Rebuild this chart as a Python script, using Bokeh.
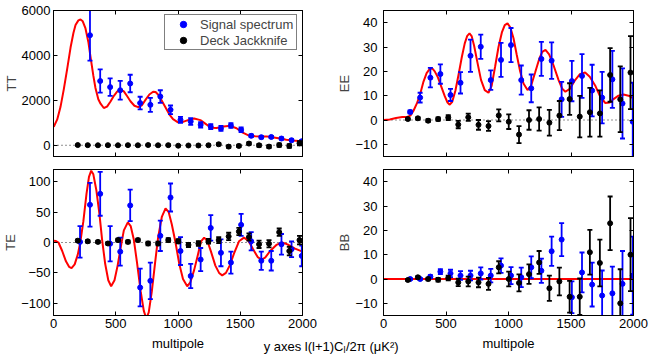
import numpy as np
from bokeh.plotting import figure
from bokeh.layouts import column, row
from bokeh.models import (ColumnDataSource, LinearAxis, FixedTicker, Span, Legend,
                          LegendItem, Label, Range1d, CustomJSTickFormatter)
from bokeh.embed import file_html
from bokeh.resources import INLINE

# ---------------- data ----------------
# bin centres (multipole) of the two data sets
ell_jk = [195, 275, 357, 437, 518, 598, 678, 760, 840, 922, 1002, 1084, 1164, 1245,
          1327, 1407, 1489, 1570, 1651, 1731, 1813, 1894, 1976]
ell_sig = [213, 293, 375, 455, 536, 616, 696, 778, 858, 940, 1020, 1102, 1182, 1263,
           1345, 1425, 1507, 1588, 1669, 1749, 1831, 1912, 1994]

# TT (signal starts at the second bin)
tt_sig = [4900, 2860, 2590, 2450, 2750, 1880, 1800, 2170, 1580, 1130, 1060, 910, 830,
          750, 880, 690, 420, 360, 370, 300, 225, 180]
tt_sig_err = [1130, 520, 390, 420, 390, 280, 310, 280, 190, 130, 150, 120, 110, 110,
              110, 100, 60, 50, 50, 50, 50, 50]
tt_jk = [10, 5, 0, 5, 0, 5, 0, 10, 0, 5, -20, -10, -10, 0, 45, -60, -30, 75, 0, -60,
         10, -30, 90]
tt_jk_err = [20, 20, 20, 20, 20, 20, 25, 25, 25, 30, 30, 30, 35, 40, 45, 50, 55, 60,
             65, 70, 75, 80, 90]

# EE
ee_sig = [3.3, 9.2, 17.4, 18.9, 10.3, 15.3, 26.4, 30.1, 16.4, 24.7, 30.8, 16.4, 13.0,
          25.1, 24.4, 8.5, 16.0, 18.1, 12.1, 9.2, 16.7, 6.8, -0.7]
ee_sig_err = [0.6, 2.0, 4.0, 4.0, 2.5, 4.4, 6.6, 5.0, 4.0, 7.0, 7.0, 6.0, 5.7, 7.0,
              7.5, 7.2, 8.3, 9.0, 10.6, 10.6, 11.7, 14.4, 16.0]
ee_jk = [0.4, 0.7, -0.3, 0.4, 1.0, -1.9, 1.1, -2.0, -2.5, 1.9, -0.7, -6.0, 0.0, 0.4,
         -1.1, 1.8, 8.6, 1.4, 3.2, 2.7, 18.5, 8.5, 19.5]
ee_jk_err = [0.4, 0.5, 0.6, 0.7, 1.0, 1.5, 1.5, 2.0, 2.0, 2.5, 3.0, 3.5, 4.0, 4.8,
             5.3, 6.0, 6.5, 8.5, 10.0, 9.5, 11.0, 13.5, 15.0]

# TE
te_sig = [1, 62, 80, -2, -15, 61, -74, -63, 11, 74, -14, -55, -28, 24, -17, -33, 29,
          2, -30, -30, -3, -11, -22]
te_sig_err = [26, 36, 36, 29, 23, 26, 31, 30, 25, 23, 23, 20, 19, 21, 22, 18, 18, 15,
              15, 16, 17, 13, 17]
te_jk = [3, 2, 1, -1.6, 4, 1, 4, -1.6, -1.6, 4, 2, -4, -1.6, 2, 4, 10, 18, 9, -3, -2,
         17, -14, 4]
te_jk_err = [2, 2, 2, 2, 2.5, 2.5, 2.5, 3, 3, 3, 3.5, 3.5, 4, 4, 5, 6, 6, 6, 6, 6, 6,
             7, 7]

# BB
bb_sig = [0, 0, 1, 3, 2.3, 1.4, 1.4, 2.3, 1.4, 5.5, 1.4, 0.7, 4.8, 3.4, 11.4, 16.2,
          -7.5, 2.7, -2.3, -6.8, -5.9, -2, 1.4]
bb_sig_err = [0.3, 0.4, 0.6, 1.0, 1.5, 1.8, 2.0, 2.5, 2.8, 3.0, 3.5, 4.0, 4.5, 5.0,
              6.0, 6.8, 6.5, 8.2, 9.0, 10.3, 11.0, 13.5, 16.0]
bb_jk = [-0.4, 0.7, 0, -0.3, 0.4, -1.4, -1, -1.4, -2, 4.8, 0, -1.6, 2, 6.8, -3.8, -1,
         -7.3, -7.3, 11, 6.6, 22.9, -10, 10]
bb_jk_err = [0.4, 0.5, 0.6, 0.8, 1.0, 1.5, 2.0, 2.0, 2.5, 2.5, 3.0, 3.5, 4.0, 4.7, 5.2,
             5.7, 6.5, 7.5, 9.2, 9.6, 11.0, 14.0, 15.0]

# theory curves
tt_th_ell = [2, 30, 56, 83, 110, 137, 160, 177, 200, 217, 235, 257, 280, 297, 320, 337,
             360, 378, 404, 430, 458, 485, 511, 538, 565, 592, 618, 650, 680, 710, 740,
             770, 800, 820, 845, 870, 900, 930, 960, 1000, 1040, 1080, 1130, 1180, 1230,
             1270, 1310, 1350, 1420, 1470, 1520, 1570, 1620, 1670, 1720, 1770, 1820,
             1870, 1920, 1970, 2000]
tt_th = [820, 1150, 1700, 2500, 3400, 4350, 5000, 5350, 5560, 5600, 5520, 5200, 4600,
         3950, 3100, 2550, 2050, 1850, 1660, 1720, 1950, 2200, 2390, 2480, 2400, 2180,
         1960, 1760, 1700, 1780, 2030, 2260, 2380, 2370, 2230, 1980, 1680, 1380, 1160,
         1020, 1040, 1120, 1190, 1120, 920, 780, 770, 820, 865, 760, 560, 430, 400, 395,
         385, 350, 300, 250, 215, 190, 175]

ee_th_ell = [0, 50, 100, 150, 185, 215, 240, 267, 295, 320, 345, 370, 390, 410, 435,
             460, 490, 512, 530, 550, 575, 600, 627, 650, 670, 688, 705, 725, 750, 780,
             810, 840, 865, 893, 920, 947, 970, 992, 1015, 1040, 1065, 1093, 1120, 1152,
             1180, 1213, 1245, 1270, 1296, 1325, 1360, 1400, 1430, 1455, 1490, 1533,
             1570, 1613, 1650, 1693, 1730, 1773, 1810, 1840, 1880, 1920, 1960, 2000]
ee_th = [0, 0.2, 0.8, 1.2, 1.2, 1.8, 3.8, 6.8, 11, 15.8, 19.3, 21.0, 21.2, 20, 17.5, 14,
         9.8, 7.2, 6.3, 7.5, 12, 18.5, 26, 31.5, 34.6, 35.6, 34.5, 30.5, 24, 16.5, 12.3,
         11.2, 14, 22, 30, 36, 39, 39.7, 38, 33.6, 27, 20, 15, 12.3, 14, 19.5, 25, 28,
         28.8, 27, 22.5, 16.5, 12.8, 11.6, 12.8, 16.4, 18.8, 19.5, 17.8, 14.2, 10, 7,
         7.2, 8.6, 10, 10.5, 10, 8.9]

te_th_ell = [0, 20, 40, 70, 100, 125, 145, 170, 195, 215, 240, 265, 285, 303, 320, 345,
             370, 390, 415, 440, 463, 490, 515, 540, 565, 597, 620, 645, 670, 700, 725,
             745, 765, 790, 815, 840, 870, 900, 925, 950, 980, 1010, 1040, 1074, 1100,
             1130, 1160, 1185, 1210, 1235, 1265, 1300, 1330, 1355, 1385, 1415, 1450, 1490,
             1530, 1565, 1600, 1640, 1670, 1700, 1740, 1790, 1837, 1880, 1940, 2000]
te_th = [3, 2.5, 0, -14, -31, -40, -42, -36, -20, 0, 35, 80, 108, 118, 112, 85, 45, 5,
         -35, -62, -72, -62, -38, -8, 20, 33, 27, 5, -32, -80, -112, -125, -115, -80, -35,
         8, 42, 56, 50, 30, 0, -35, -60, -72, -65, -45, -20, 2, 8, 3, -15, -38, -50, -54,
         -50, -38, -18, 2, 8, 3, -10, -24, -28, -25, -14, -4, 0, -3, -10, -15]

bb_th_ell = [0, 2000]
bb_th = [0, 0]

x_ticks = [0, 500, 1000, 1500, 2000]
tt_ticks = [0, 2000, 4000, 6000]
pol_ticks = [-10, 0, 10, 20, 30, 40]
te_ticks = [-100, -50, 0, 50, 100]

# caption pieces: main text, subscript, rest (with superscript 2)
cap_main = "y axes l(l+1)C"
cap_sub = "l"
cap_rest = "/2\u03c0 (\u03bcK\u00b2)"

# ---------------- styling ----------------
FONT = "Liberation Sans"
FS = "13px"
BLUE = "#0000ff"
BLACK = "#000000"
RED = "#ff0000"
MINUS_FMT = "return (tick < 0 ? '\\u2212' : '') + Math.abs(tick).toFixed(0);"


def make_panel(width, height, left, right, top, bottom, yr, yticks, ylabel,
               ylab_standoff, show_xlabels):
    p = figure(width=width, height=height,
               x_range=Range1d(0, 2000), y_range=Range1d(*yr),
               min_border_left=left, min_border_right=right,
               min_border_top=top, min_border_bottom=bottom,
               output_backend="svg", toolbar_location=None, tools="")
    p.add_layout(LinearAxis(), "right")
    p.add_layout(LinearAxis(), "above")
    p.grid.visible = False
    p.outline_line_color = "black"
    p.outline_line_width = 1
    p.background_fill_color = "white"
    p.border_fill_color = "white"
    for ax in list(p.xaxis) + list(p.yaxis):
        ax.axis_line_color = "black"
        ax.axis_line_width = 1
        ax.major_tick_in = 4
        ax.major_tick_out = 0
        ax.major_tick_line_color = "black"
        ax.major_tick_line_width = 1
        ax.minor_tick_line_color = None
        ax.major_label_text_font = FONT
        ax.major_label_text_font_size = FS
        ax.major_label_text_color = "black"
    for ax in p.xaxis:
        ax.ticker = FixedTicker(ticks=x_ticks)
    for ax in p.yaxis:
        ax.ticker = FixedTicker(ticks=yticks)
        ax.formatter = CustomJSTickFormatter(code=MINUS_FMT)
    # tick-only axes (MATLAB-style box): labels are not drawn at all
    hidden = list(p.right) + list(p.above)
    if not show_xlabels:
        hidden += list(p.below)
    for ax in hidden:
        ax.major_label_text_font_size = "1px"
        ax.major_label_text_color = None
        ax.major_label_standoff = 0
    left_ax = p.left[0]
    left_ax.axis_label = ylabel
    left_ax.axis_label_text_font = FONT
    left_ax.axis_label_text_font_size = FS
    left_ax.axis_label_text_font_style = "normal"
    left_ax.axis_label_standoff = 0
    left_ax.major_label_standoff = ylab_standoff
    if show_xlabels:
        p.below[0].major_label_standoff = 3
    p.add_layout(Span(location=0, dimension="width", line_color="#222222",
                      line_width=1, line_dash="1 3", level="underlay"))
    return p


def draw_points(p, ell, val, err, color):
    ell = np.asarray(ell, dtype=float)
    val = np.asarray(val, dtype=float)
    err = np.asarray(err, dtype=float)
    src = ColumnDataSource(dict(x=ell, y=val, lo=val - err, hi=val + err))
    p.segment(x0="x", y0="lo", x1="x", y1="hi", source=src,
              line_color=color, line_width=1.8)
    p.scatter(x="x", y="lo", marker="dash", size=5, line_color=color,
              line_width=1.8, source=src)
    p.scatter(x="x", y="hi", marker="dash", size=5, line_color=color,
              line_width=1.8, source=src)
    return p.scatter(x="x", y="y", size=5, fill_color=color, line_color=color,
                     source=src)


# widths/heights of the four panels
LW, RW = 317, 333
TH, BH = 162, 172

p_tt = make_panel(LW, TH, 53, 15, 10, 6, (-500, 6000), tt_ticks, "TT", 3, False)
p_ee = make_panel(RW, TH, 66, 17, 10, 6, (-15, 45), pol_ticks, "EE", 6, False)
p_te = make_panel(LW, BH, 53, 15, 7, 19, (-120, 120), te_ticks, "TE", 3, True)
p_bb = make_panel(RW, BH, 66, 17, 7, 19, (-15, 45), pol_ticks, "BB", 6, True)

p_tt.line(tt_th_ell, tt_th, line_color=RED, line_width=2)
r_sig = draw_points(p_tt, ell_sig[1:], tt_sig, tt_sig_err, BLUE)
r_jk = draw_points(p_tt, ell_jk, tt_jk, tt_jk_err, BLACK)

p_ee.line(ee_th_ell, ee_th, line_color=RED, line_width=2)
draw_points(p_ee, ell_sig, ee_sig, ee_sig_err, BLUE)
draw_points(p_ee, ell_jk, ee_jk, ee_jk_err, BLACK)

p_te.line(te_th_ell, te_th, line_color=RED, line_width=2)
draw_points(p_te, ell_sig, te_sig, te_sig_err, BLUE)
draw_points(p_te, ell_jk, te_jk, te_jk_err, BLACK)

p_bb.line(bb_th_ell, bb_th, line_color=RED, line_width=2)
draw_points(p_bb, ell_sig, bb_sig, bb_sig_err, BLUE)
draw_points(p_bb, ell_jk, bb_jk, bb_jk_err, BLACK)

legend = Legend(items=[LegendItem(label="Signal spectrum", renderers=[r_sig]),
                       LegendItem(label="Deck Jackknife", renderers=[r_jk])],
                location=(111, 106), orientation="vertical", padding=1, spacing=-2,
                margin=0, glyph_width=34, glyph_height=16, label_height=16,
                label_width=95, label_standoff=0, label_text_font=FONT,
                label_text_font_size=FS, border_line_color="black",
                border_line_width=1, background_fill_color="white",
                background_fill_alpha=1.0)
p_tt.add_layout(legend)

# strip with the shared x labels and the common y-axis caption
strip = figure(width=650, height=20, x_range=Range1d(0, 650), y_range=Range1d(0, 20),
               min_border_left=0, min_border_right=0, min_border_top=0,
               min_border_bottom=0, x_axis_type=None, y_axis_type=None,
               output_backend="svg", toolbar_location=None, tools="")
strip.grid.visible = False
strip.outline_line_color = None
strip.background_fill_color = "white"
strip.border_fill_color = "white"
for xc in (177.5, 508):
    strip.add_layout(Label(x=xc, y=11, x_units="screen", y_units="screen",
                           text="multipole", text_align="center",
                           text_baseline="alphabetic", text_font=FONT,
                           text_font_size=FS, text_color="black"))
CAP_X = 343  # where the subscript sits
strip.add_layout(Label(x=CAP_X, y=8, x_units="screen", y_units="screen",
                       text=cap_main, text_align="right", text_baseline="alphabetic",
                       text_font=FONT, text_font_size=FS, text_color="black"))
strip.add_layout(Label(x=CAP_X, y=5, x_units="screen", y_units="screen",
                       text=cap_sub, text_align="left", text_baseline="alphabetic",
                       text_font=FONT, text_font_size="9px", text_color="black"))
strip.add_layout(Label(x=CAP_X + 2.5, y=8, x_units="screen", y_units="screen",
                       text=cap_rest, text_align="left", text_baseline="alphabetic",
                       text_font=FONT, text_font_size=FS, text_color="black"))

layout = column(row(p_tt, p_ee), row(p_te, p_bb), strip)

with open("out.html", "w", encoding="utf-8") as f:
    f.write(file_html(layout, INLINE))
